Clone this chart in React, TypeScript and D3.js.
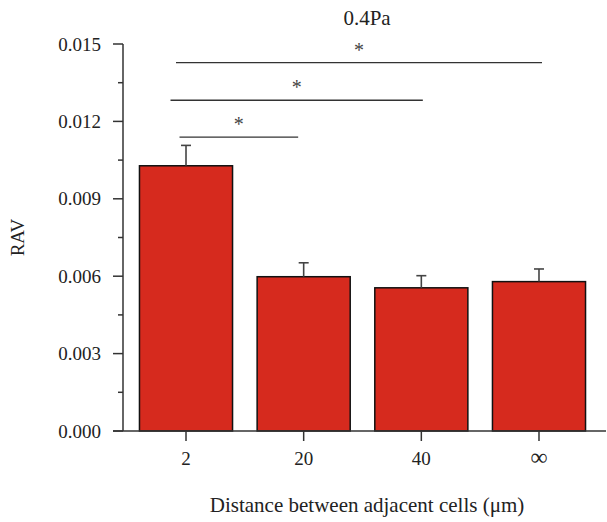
import React, { useRef, useEffect } from "react";
import * as d3 from "d3";

const categories = ["2", "20", "40", "∞"];
const means = [0.01028, 0.00598, 0.00555, 0.00579];
const errors = [0.00079, 0.00054, 0.00047, 0.00049];
const yTicks = [0, 0.003, 0.006, 0.009, 0.012, 0.015];
const minorTicks = [0.0015, 0.0045, 0.0075, 0.0105, 0.0135];
// significance brackets: from category, to category, level (RAV units)
const sigFrom = ["2", "2", "2"];
const sigTo = ["20", "40", "∞"];
const sigLevel = [0.01139, 0.01282, 0.01428];
const sigOffsets = [[-6.5, -5.5], [-15.5, 1.5], [-10, 3]];

const title = "0.4Pa";
const xLabel = "Distance between adjacent cells (μm)";
const yLabel = "RAV";

export default function App() {
  const ref = useRef<SVGSVGElement>(null);
  const width = 607;
  const height = 522;

  useEffect(() => {
    const svg = d3.select(ref.current);
    svg.selectAll("*").remove();

    const font = "'Liberation Serif', 'Times New Roman', serif";
    const axisColor = "#333";

    // 軸の位置
    const left = 123;
    const right = 602;
    const top = 44;
    const bottom = 431;

    const x = d3
      .scaleBand()
      .domain(categories)
      .range([left, right])
      .paddingInner(0.209)
      .paddingOuter(0.14);

    const y = d3.scaleLinear().domain([0, 0.015]).range([bottom, top]);

    const g = svg.append("g").attr("font-family", font);

    // bars
    g.selectAll(".bar")
      .data(means)
      .enter()
      .append("rect")
      .attr("x", (_, i) => x(categories[i])!)
      .attr("width", x.bandwidth())
      .attr("y", (d) => y(d))
      .attr("height", (d) => y(0) - y(d))
      .attr("fill", "#d62a1e")
      .attr("stroke", "#111")
      .attr("stroke-width", 1.5);

    // error bars (up only)
    means.forEach((m, i) => {
      const cx = x(categories[i])! + x.bandwidth() / 2;
      const yt = y(m + errors[i]);
      g.append("line")
        .attr("x1", cx).attr("x2", cx)
        .attr("y1", y(m)).attr("y2", yt)
        .attr("stroke", "#444").attr("stroke-width", 1.6);
      g.append("line")
        .attr("x1", cx - 5).attr("x2", cx + 5)
        .attr("y1", yt).attr("y2", yt)
        .attr("stroke", "#444").attr("stroke-width", 1.6);
    });

    // y axis
    g.append("line")
      .attr("x1", left).attr("x2", left)
      .attr("y1", top).attr("y2", bottom)
      .attr("stroke", axisColor).attr("stroke-width", 1.5);
    yTicks.forEach((t) => {
      g.append("line")
        .attr("x1", left - 10).attr("x2", left)
        .attr("y1", y(t)).attr("y2", y(t))
        .attr("stroke", axisColor).attr("stroke-width", 1.5);
      g.append("text")
        .attr("x", left - 22)
        .attr("y", y(t))
        .attr("dy", "0.35em")
        .attr("text-anchor", "end")
        .attr("font-size", 19)
        .attr("fill", "#222")
        .text(d3.format(".3f")(t));
    });
    minorTicks.forEach((t) => {
      g.append("line")
        .attr("x1", left - 5).attr("x2", left)
        .attr("y1", y(t)).attr("y2", y(t))
        .attr("stroke", axisColor).attr("stroke-width", 1.5);
    });

    // x axis
    g.append("line")
      .attr("x1", left - 10).attr("x2", 606)
      .attr("y1", bottom).attr("y2", bottom)
      .attr("stroke", axisColor).attr("stroke-width", 1.5);
    categories.forEach((c) => {
      const cx = x(c)! + x.bandwidth() / 2;
      g.append("line")
        .attr("x1", cx).attr("x2", cx)
        .attr("y1", bottom).attr("y2", bottom + 10)
        .attr("stroke", axisColor).attr("stroke-width", 1.5);
      g.append("text")
        .attr("x", cx)
        .attr("y", bottom + 34)
        .attr("text-anchor", "middle")
        .attr("font-size", c === "∞" ? 24 : 19)
        .attr("fill", "#222")
        .text(c);
    });

    // significance
    sigFrom.forEach((a, i) => {
      const x1 = x(a)! + x.bandwidth() / 2 + sigOffsets[i][0];
      const x2 = x(sigTo[i])! + x.bandwidth() / 2 + sigOffsets[i][1];
      const yy = y(sigLevel[i]);
      g.append("line")
        .attr("x1", x1).attr("x2", x2)
        .attr("y1", yy).attr("y2", yy)
        .attr("stroke", "#333").attr("stroke-width", 1.3);
      g.append("text")
        .attr("x", (x1 + x2) / 2)
        .attr("y", yy - 6)
        .attr("text-anchor", "middle")
        .attr("font-size", 20)
        .attr("fill", "#444")
        .text("*");
    });

    // labels
    g.append("text")
      .attr("x", 367).attr("y", 25)
      .attr("text-anchor", "middle")
      .attr("font-size", 21)
      .attr("fill", "#222")
      .text(title);

    g.append("text")
      .attr("x", 367).attr("y", 512)
      .attr("text-anchor", "middle")
      .attr("font-size", 21)
      .attr("fill", "#222")
      .text(xLabel);

    g.append("text")
      .attr("transform", `translate(24,${(top + bottom) / 2}) rotate(-90)`)
      .attr("text-anchor", "middle")
      .attr("font-size", 19)
      .attr("fill", "#222")
      .text(yLabel);
  }, []);

  return (
    <svg
      ref={ref}
      width={width}
      height={height}
      style={{ position: "absolute", left: 0, top: 0, background: "#fff" }}
    />
  );
}
